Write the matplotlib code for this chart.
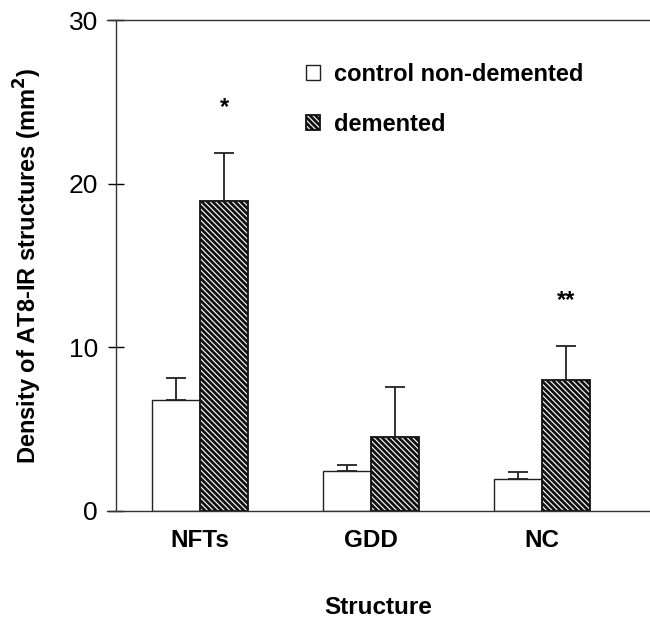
import matplotlib
matplotlib.use("Agg")
import matplotlib.pyplot as plt
import numpy as np

structures = ["NFTs", "GDD", "NC"]
control = [6.8, 2.45, 1.95]
control_err = [1.35, 0.35, 0.45]
demented = [18.95, 4.55, 8.0]
demented_err = [2.95, 3.05, 2.1]
stars = ["*", "", "**"]

plt.rcParams['font.family'] = ['Liberation Sans', 'DejaVu Sans']
plt.rcParams['hatch.linewidth'] = 2.0

fig = plt.figure(figsize=(6.5, 6.21), dpi=100)
ax = fig.add_axes([107/650, 1 - 511/621, 543/650, 491/621])

x = np.arange(len(structures))
w = 0.281
ax.bar(x - w/2, control, w, color='white', edgecolor='#222222', linewidth=1.0,
       label='control non-demented')
ax.bar(x + w/2, demented, w, color='white', edgecolor='#111111', linewidth=1.3,
       hatch='\\\\\\\\\\\\', label='demented')
ax.errorbar(x - w/2, control, yerr=[np.zeros(3), control_err], fmt='none',
            ecolor='#222222', elinewidth=1.3, capsize=7, capthick=1.3)
ax.errorbar(x + w/2, demented, yerr=[np.zeros(3), demented_err], fmt='none',
            ecolor='#222222', elinewidth=1.3, capsize=7, capthick=1.3)

for i, s in enumerate(stars):
    if s:
        ax.text(x[i] + w/2, demented[i] + demented_err[i] + 2.75, s,
                ha='center', va='center', fontsize=17, fontweight='bold')

ax.set_xlim(-0.544, 2.632)
ax.set_ylim(0, 30)
ax.set_yticks([0, 10, 20, 30])
ax.set_xticks(x)
ax.set_xticklabels(structures, fontsize=17.5, fontweight='bold')
ax.tick_params(axis='x', length=0, pad=13)
ax.tick_params(axis='y', direction='inout', length=12, width=1.0, labelsize=19, pad=7)

ax.spines['right'].set_visible(False)
ax.spines['left'].set_position(('axes', 9/543))
for s in ['left', 'top', 'bottom']:
    ax.spines[s].set_linewidth(1.0)
    ax.spines[s].set_color('#333333')

ax.set_ylabel('Density of AT8-IR structures (mm$^\\mathbf{2}$)', fontsize=17,
              fontweight='bold', labelpad=18)
ax.set_xlabel('Structure', fontsize=17.5, fontweight='bold', labelpad=32)

ax.legend(loc='upper left', bbox_to_anchor=((306 - 107)/543, (511 - 63)/491),
          frameon=False, handlelength=0.6, handleheight=0.6,
          handletextpad=0.6, labelspacing=1.15, borderpad=0, borderaxespad=0,
          prop={'weight': 'bold', 'size': 17})

fig.savefig('out.png', dpi=100)
